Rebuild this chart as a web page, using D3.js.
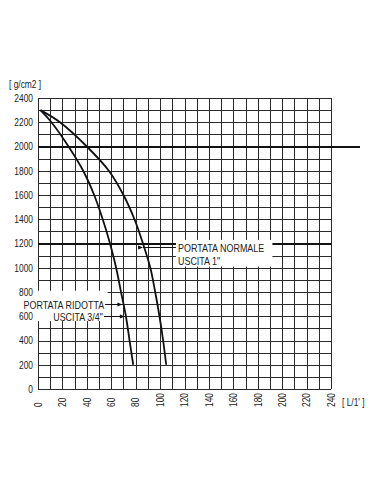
<!DOCTYPE html>
<html>
<head>
<meta charset="utf-8">
<script src="https://cdn.jsdelivr.net/npm/d3@7"></script>
<style>
  body { margin: 0; background: #fff; }
  text { font-family: "Liberation Sans", Arial, sans-serif; fill: #222; }
</style>
</head>
<body>
<svg id="chart" width="370" height="493"></svg>
<script>
// tick values
const xTicks = d3.range(0, 241, 20);
const yTicks = d3.range(0, 2401, 200);
const xGrid = d3.range(0, 241, 10);
const yGrid = d3.range(0, 2401, 100);
const boldLines = [2000, 1200];

// curves: [L/1', g/cm2]
const portataNormale = [[2, 2300], [18, 2200], [40, 2000], [58, 1800], [70, 1600], [79, 1400],
  [86, 1200], [92, 1000], [96, 800], [99.5, 600], [102.5, 400], [105, 200]];
const portataRidotta = [[2, 2300], [11, 2200], [25, 2000], [37, 1800], [46, 1600], [53, 1400],
  [59, 1200], [64, 1000], [68, 800], [72, 600], [75, 400], [78, 200]];

const svg = d3.select("#chart");
const margin = {top: 98, right: 39, bottom: 104, left: 38};
const width = 370, height = 493;
const squeeze = 0.8; // the original lettering is condensed

const x = d3.scaleLinear().domain([0, 240]).range([margin.left, width - margin.right]);
const y = d3.scaleLinear().domain([0, 2400]).range([height - margin.bottom, margin.top]);
const px = v => Math.round(v) + 0.5;

// x on a curve at a given pressure
function xAt(data, p) {
  for (let i = 1; i < data.length; i++) {
    const [x0, y0] = data[i - 1], [x1, y1] = data[i];
    if ((p - y0) * (p - y1) <= 0) return x0 + (x1 - x0) * (p - y0) / (y1 - y0);
  }
  return data[data.length - 1][0];
}

function label(g, tx, ty, str, size, anchor, rot) {
  return g.append("text")
    .attr("transform", `translate(${tx},${ty})${rot ? " rotate(-90)" : ""} scale(${squeeze},1)`)
    .attr("dy", "0.36em").attr("text-anchor", anchor || "start")
    .attr("font-size", size).text(str);
}

// grid
const grid = svg.append("g").attr("stroke", "#2a2a2a").attr("stroke-width", 1);
grid.selectAll(".v").data(xGrid).join("line")
  .attr("x1", d => px(x(d))).attr("x2", d => px(x(d)))
  .attr("y1", y(0)).attr("y2", y(2400));
grid.selectAll(".h").data(yGrid).join("line")
  .attr("y1", d => px(y(d))).attr("y2", d => px(y(d)))
  .attr("x1", x(0)).attr("x2", x(240));

svg.append("g").selectAll("line").data(boldLines).join("line")
  .attr("stroke", "#111").attr("stroke-width", 2)
  .attr("y1", d => Math.round(y(d))).attr("y2", d => Math.round(y(d)))
  .attr("x1", x(0)).attr("x2", d => d === 2000 ? width - 10 : x(240));

// white boxes behind the labels
svg.append("rect").attr("x", 20).attr("y", y(810)).attr("width", x(57) - 20)
  .attr("height", y(560) - y(810)).attr("fill", "#fff");
svg.append("rect").attr("x", x(113)).attr("y", y(1230)).attr("width", x(192) - x(113))
  .attr("height", y(1010) - y(1230)).attr("fill", "#fff");

// curves
const line = d3.line().x(d => x(d[0])).y(d => y(d[1])).curve(d3.curveCatmullRom.alpha(0.5));
svg.selectAll(".curve").data([portataNormale, portataRidotta]).join("path")
  .attr("fill", "none").attr("stroke", "#111").attr("stroke-width", 1.8)
  .attr("d", line);

// y labels
const yl = svg.append("g");
yTicks.forEach(d => label(yl, 33, y(d), d, 10.5, "end"));

// x labels (rotated)
const xl = svg.append("g");
xTicks.forEach(d => label(xl, x(d), y(0) + 18, d, 10.5, "start", true));

label(svg, 9, 84, "[ g/cm2 ]", 10.5);
label(svg, 342, 402, "[ L/1' ]", 10.5);

// annotations
const leaders = [
  {curve: portataNormale, p: 1170, from: 113, side: "right", lines: ["PORTATA NORMALE", "USCITA  1\""]},
  {curve: portataRidotta, p: 700, from: 55, side: "left", lines: ["PORTATA RIDOTTA"]},
  {curve: portataRidotta, p: 600, from: 54, side: "left", lines: ["USCITA 3/4\""]}
];
leaders.forEach(l => {
  const cx = x(xAt(l.curve, l.p)), ly = px(y(l.p)), fx = x(l.from);
  svg.append("line").attr("x1", fx).attr("x2", cx - 1).attr("y1", ly).attr("y2", ly)
    .attr("stroke", "#111").attr("stroke-width", 1);
  svg.append("path").attr("d", `M${cx - 1},${ly}l-5,-2v4z`).attr("fill", "#111");
  l.lines.forEach((t, i) => {
    label(svg, l.side === "right" ? fx + 2 : fx - 1, ly + i * 13.5, t, 11.2,
      l.side === "right" ? "start" : "end");
  });
});
</script>
</body>
</html>
